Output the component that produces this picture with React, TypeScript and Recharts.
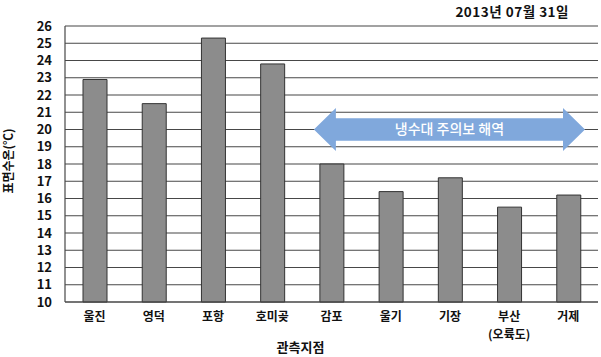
import React from "react";
import {
  BarChart,
  Bar,
  XAxis,
  YAxis,
  CartesianGrid,
  ReferenceArea,
  Label,
} from "recharts";

const stations = ["울진", "영덕", "포항", "호미곶", "감포", "울기", "기장", "부산\n(오륙도)", "거제"];
const temps = [22.9, 21.5, 25.3, 23.8, 18.0, 16.4, 17.2, 15.5, 16.2];
const yTicks = [10, 11, 12, 13, 14, 15, 16, 17, 18, 19, 20, 21, 22, 23, 24, 25, 26];
const boundaryTicks = [1, 2, 3, 4, 5, 6, 7, 8];
const titleText = "2013년 07월 31일";
const yLabel = "표면수온(℃)";
const xLabel = "관측지점";
const zoneLabel = "냉수대 주의보 해역";
const zoneFrom = "감포";
const zoneTo = "거제";

const data = stations.map((s, i) => ({ name: s, value: temps[i] }));

const FONT = "'Noto Sans CJK KR', 'Noto Sans', sans-serif";
const GRID = "#474747";

const XTick = (props: any) => {
  const { x, y, payload } = props;
  const lines = String(payload.value).split("\n");
  return (
    <text
      x={x}
      y={y}
      textAnchor="middle"
      fontFamily={FONT}
      fontWeight="bold"
      fontSize={12}
      fill="#111"
    >
      {lines.map((l, i) => (
        <tspan key={i} x={x} dy={i === 0 ? 19 : 18}>
          {l}
        </tspan>
      ))}
    </text>
  );
};

const ArrowShape = (props: any) => {
  const { x, y, width, height } = props;
  const cy = y + height / 2;
  const l = x + 12;
  const r = x + width - 13;
  const hl = l + 22;
  const hr = r - 22;
  const bh = height * 0.26;
  const hh = height / 2;
  const pts = [
    [l, cy],
    [hl, cy - hh],
    [hl, cy - bh],
    [hr, cy - bh],
    [hr, cy - hh],
    [r, cy],
    [hr, cy + hh],
    [hr, cy + bh],
    [hl, cy + bh],
    [hl, cy + hh],
  ]
    .map((p) => p.join(","))
    .join(" ");
  return (
    <g>
      <polygon points={pts} fill="#80a8dc" />
      <text
        x={(l + r) / 2}
        y={cy + 1}
        textAnchor="middle"
        dominantBaseline="middle"
        fontFamily={FONT}
        fontSize={14}
        fontWeight={500}
        fill="#ffffff"
      >
        {zoneLabel}
      </text>
    </g>
  );
};

export default function App() {
  return (
    <div style={{ position: "absolute", left: 0, top: 0, width: 601, height: 357, background: "#fff" }}>
      <div
        style={{
          position: "absolute",
          right: 32,
          top: 3,
          fontFamily: FONT,
          fontWeight: "bold",
          fontSize: 13.5,
          letterSpacing: 0.5,
          lineHeight: "17px",
          color: "#111",
          whiteSpace: "nowrap",
        }}
      >
        {titleText}
      </div>
      <BarChart
        width={601}
        height={357}
        data={data}
        margin={{ top: 26, right: 3, left: 0, bottom: 0 }}
        barCategoryGap={0}
      >
        <CartesianGrid horizontal vertical={false} stroke={GRID} strokeWidth={1.2} />
        <XAxis
          xAxisId="b"
          type="number"
          domain={[0, 9]}
          allowDataOverflow
          ticks={boundaryTicks}
          mirror
          height={0}
          tickSize={4}
          axisLine={false}
          tickLine={{ stroke: GRID }}
          tickFormatter={() => ""}
        />
        <XAxis
          dataKey="name"
          height={55}
          interval={0}
          tickSize={0}
          tickMargin={0}
          tickLine={false}
          axisLine={{ stroke: GRID, strokeWidth: 1.2 }}
          tick={<XTick />}
        >
          <Label
            content={(p: any) => {
              const vb = p.viewBox;
              return (
                <text
                  x={vb.x + vb.width / 2 - 31}
                  y={vb.y + 50}
                  textAnchor="middle"
                  fontFamily={FONT}
                  fontWeight="bold"
                  fontSize={13}
                  fill="#111"
                >
                  {xLabel}
                </text>
              );
            }}
          />
        </XAxis>
        <YAxis
          width={65}
          domain={[10, 26]}
          ticks={yTicks}
          interval={0}
          tickSize={0}
          tickMargin={13}
          tickLine={false}
          axisLine={{ stroke: GRID, strokeWidth: 1.2 }}
          tick={{ fontFamily: FONT, fontWeight: "bold", fontSize: 13, fill: "#111" }}
        >
          <Label
            content={() => {
              return (
                <text
                  x={10}
                  y={161}
                  transform="rotate(-90 10 161)"
                  textAnchor="middle"
                  dominantBaseline="middle"
                  fontFamily={FONT}
                  fontWeight="bold"
                  fontSize={12}
                  fill="#111"
                >
                  {yLabel}
                </text>
              );
            }}
          />
        </YAxis>
        <YAxis
          yAxisId="r"
          orientation="right"
          width={0}
          domain={[10, 26]}
          tick={false}
          tickLine={false}
          axisLine={{ stroke: GRID, strokeWidth: 1.2 }}
        />
        <Bar
          dataKey="value"
          barSize={24}
          fill="#8c8c8c"
          stroke="#333"
          strokeWidth={1}
          isAnimationActive={false}
        />
        <ReferenceArea
          x1={zoneFrom}
          x2={zoneTo}
          y1={18.75}
          y2={21.25}
          shape={<ArrowShape />}
          ifOverflow="visible"
        />
      </BarChart>
    </div>
  );
}
